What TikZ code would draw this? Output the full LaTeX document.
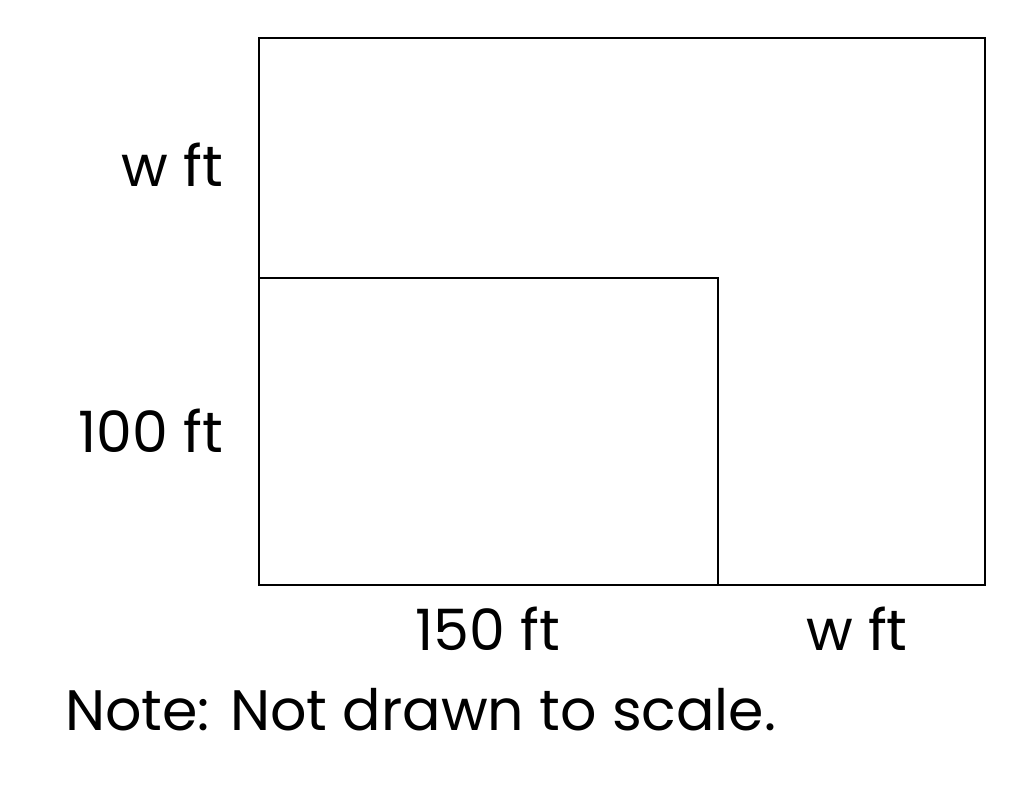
\documentclass[tikz,border=0pt]{standalone}
\usepackage{fontspec}
\setmainfont{Poppins}
\begin{document}
\begin{tikzpicture}[x=1pt,y=-1pt,
  lbl/.style={inner sep=0pt,font=\fontsize{57}{68}\selectfont},
  box/.style={draw=black,line width=2.2pt}]
\useasboundingbox (0,0) rectangle (1024,789);
\coordinate (otl) at (259,38);
\coordinate (obr) at (985,585);
\coordinate (itl) at (259,278);
\coordinate (ibr) at (718,585);
\draw[box] (otl) rectangle (obr);
\draw[box] (itl) -| (ibr);
\node[lbl,anchor=base east] (w1) at (223,186) {w ft};
\node[lbl,anchor=base east] (h) at (223,452) {100 ft};
\node[lbl,anchor=base] (l) at (488,650) {150 ft};
\node[lbl,anchor=base] (w2) at (857,650) {w ft};
\node[lbl,anchor=base west] (note) at (65,730) {Note: Not drawn to scale.};
\end{tikzpicture}
\end{document}
